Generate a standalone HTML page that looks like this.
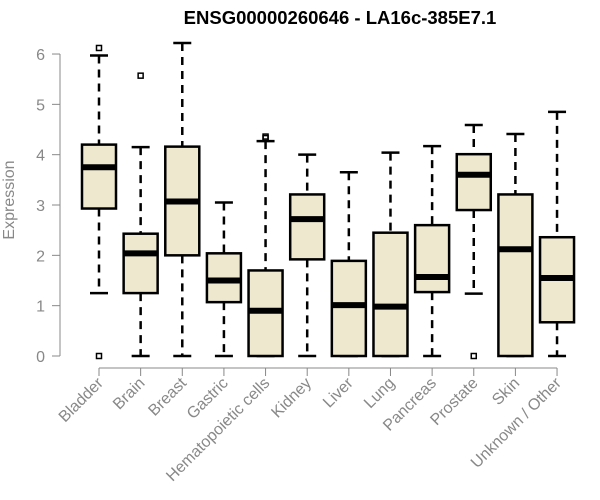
<!DOCTYPE html>
<html><head><meta charset="utf-8"><style>
html,body{margin:0;padding:0;background:#fff;}
svg{display:block;font-family:"Liberation Sans",Arial,sans-serif;}
</style></head><body>
<svg id="chart" width="600" height="500">
<text x="340" y="24" text-anchor="middle" font-weight="bold" font-size="18.5" fill="#000">ENSG00000260646 - LA16c-385E7.1</text>
<text transform="translate(14,200) rotate(-90)" text-anchor="middle" font-size="16" fill="#888">Expression</text>
<g id="axes"></g><g id="boxes"></g>
</svg>
<script>
const categories=["Bladder","Brain","Breast","Gastric","Hematopoietic cells","Kidney","Liver","Lung","Pancreas","Prostate","Skin","Unknown / Other"];
const whiskerLow=[1.25,0,0,0,0,0,0,0,0,1.24,0,0];
const q1=[2.93,1.25,2.0,1.07,0,1.92,0,0,1.27,2.9,0,0.67];
const medians=[3.75,2.04,3.07,1.5,0.9,2.72,1.01,0.98,1.57,3.6,2.12,1.55];
const q3=[4.2,2.43,4.16,2.04,1.7,3.21,1.89,2.45,2.6,4.01,3.21,2.36];
const whiskerHigh=[5.97,4.15,6.22,3.05,4.27,4.0,3.65,4.04,4.17,4.59,4.41,4.85];
const outliers=[[0,6.12],[5.57],[],[],[4.33,4.36],[],[],[],[],[0],[],[]];
const yTicks=[0,1,2,3,4,5,6];
const NS="http://www.w3.org/2000/svg";
const y=v=>356-v*50.33;
const x=i=>99+i*41.64;
function mk(tag,attrs,parent){const e=document.createElementNS(NS,tag);for(const k in attrs)e.setAttribute(k,attrs[k]);parent.appendChild(e);return e;}
const axes=document.getElementById('axes'),boxes=document.getElementById('boxes');
let ax=mk('line',{x1:60,x2:60,y1:y(6),y2:y(0),stroke:'#888'},axes);


yTicks.forEach(t=>{
 let l=mk('line',{x1:52,x2:60,y1:y(t),y2:y(t),stroke:'#888'},axes);
 
 
 let tx=mk('text',{x:45,y:y(t)+6,'text-anchor':'end','font-size':16,fill:'#888'},axes);
 tx.textContent=t;
 
 
});
let xa=mk('line',{x1:x(0),x2:x(categories.length-1),y1:368,y2:368,stroke:'#888'},axes);


categories.forEach((c,i)=>{
 const cx=x(i);
 let tk=mk('line',{x1:cx,x2:cx,y1:368,y2:376,stroke:'#888'},axes);
 
 
 let tx=mk('text',{transform:`translate(${cx+5},${384}) rotate(-45)`,'text-anchor':'end','font-size':16,fill:'#888'},axes);
 tx.textContent=c;
 
 
 const g=mk('g',{},boxes);
 
 
 mk('line',{x1:cx,x2:cx,y1:y(whiskerHigh[i]),y2:y(q3[i]),stroke:'#000','stroke-width':2.5,'stroke-dasharray':'8,6'},g);
 mk('line',{x1:cx,x2:cx,y1:y(q1[i]),y2:y(whiskerLow[i]),stroke:'#000','stroke-width':2.5,'stroke-dasharray':'8,6'},g);
 mk('line',{x1:cx-9,x2:cx+9,y1:y(whiskerHigh[i]),y2:y(whiskerHigh[i]),stroke:'#000','stroke-width':2.5},g);
 mk('line',{x1:cx-9,x2:cx+9,y1:y(whiskerLow[i]),y2:y(whiskerLow[i]),stroke:'#000','stroke-width':2.5},g);
 mk('rect',{x:cx-17,y:y(q3[i]),width:34,height:y(q1[i])-y(q3[i]),fill:'#EDE8CE',stroke:'#000','stroke-width':2.5},g);
 mk('line',{x1:cx-17,x2:cx+17,y1:y(medians[i]),y2:y(medians[i]),stroke:'#000','stroke-width':6},g);
 outliers[i].forEach(o=>{
  let p=mk('rect',{x:cx-2.5,y:y(o)-2.5,width:5,height:5,fill:'none',stroke:'#000','stroke-width':1.5},g);
  
  
 });
});
</script>
</body></html>
